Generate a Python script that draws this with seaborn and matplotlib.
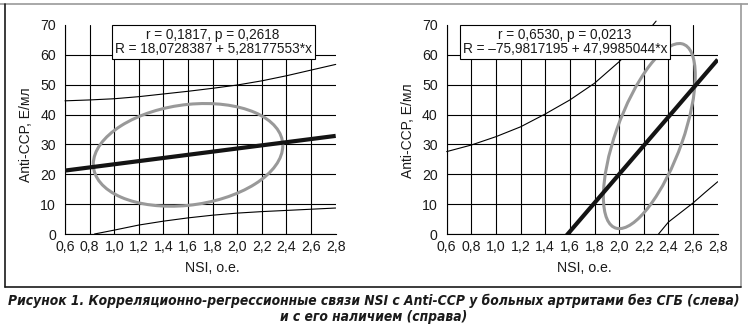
import matplotlib
matplotlib.use("Agg")
import numpy as np
import pandas as pd
import matplotlib.pyplot as plt
import seaborn as sns
from matplotlib import font_manager
from matplotlib.font_manager import FontProperties
from matplotlib.lines import Line2D
from matplotlib.patches import Circle
from matplotlib.transforms import Affine2D

# ---- regression results ----
r_left, p_left = 0.1817, 0.2618
b0_left, b1_left = 18.0728387, 5.28177553
r_right, p_right = 0.6530, 0.0213
b0_right, b1_right = -75.9817195, 47.9985044

# ---- confidence band curves (NSI, Anti-CCP) ----
band_up_left_x = [0.6, 0.8, 1.0, 1.2, 1.4, 1.6, 1.8, 2.0, 2.2, 2.4, 2.6, 2.8]
band_up_left_y = [44.6, 44.9, 45.3, 46.0, 46.9, 47.8, 48.8, 49.9, 51.3, 53.0, 54.9, 56.8]
band_lo_left_x = [0.84, 1.0, 1.2, 1.4, 1.6, 1.8, 2.0, 2.2, 2.4, 2.6, 2.8]
band_lo_left_y = [0.0, 1.3, 3.0, 4.3, 5.4, 6.3, 7.0, 7.5, 7.9, 8.3, 8.7]
band_up_right_x = [0.6, 0.8, 1.0, 1.2, 1.4, 1.6, 1.8, 2.0, 2.2, 2.3]
band_up_right_y = [27.6, 29.8, 32.6, 35.9, 40.2, 44.9, 50.5, 57.7, 66.3, 71.3]
band_lo_right_x = [2.32, 2.4, 2.5, 2.6, 2.7, 2.8]
band_lo_right_y = [0.0, 4.0, 7.2, 10.4, 14.0, 17.5]

# ---- group means and ellipse half-extents ----
nsi_mean_left, ccp_mean_left = 1.60, 26.5
nsi_spread_left, ccp_spread_left = 0.77, 17.2
nsi_mean_right, ccp_mean_right = 2.245, 32.8
nsi_spread_right, ccp_spread_right = 0.373, 31.0

# ---- axes ticks and texts ----
x_ticks = [0.6, 0.8, 1.0, 1.2, 1.4, 1.6, 1.8, 2.0, 2.2, 2.4, 2.6, 2.8]
x_ticklabels = ["0,6", "0,8", "1,0", "1,2", "1,4", "1,6", "1,8", "2,0", "2,2", "2,4", "2,6", "2,8"]
y_ticks = [0, 10, 20, 30, 40, 50, 60, 70]
x_label = "NSI, о.е."
y_label = "Anti-CCP, Е/мл"
caption_1 = "Рисунок 1. Корреляционно-регрессионные связи NSI с Anti-CCP у больных артритами без СГБ (слева)"
caption_2 = "и с его наличием (справа)"

sns.set_theme(style="white")
plt.rcParams["font.family"] = ["Liberation Sans", "DejaVu Sans"]
plt.rcParams["text.color"] = "#1a1a1a"
plt.rcParams["axes.labelcolor"] = "#1a1a1a"
plt.rcParams["xtick.color"] = "#1a1a1a"
plt.rcParams["ytick.color"] = "#1a1a1a"

W, H = 748, 327
fig = plt.figure(figsize=(W / 100, H / 100), dpi=100)
fig.patch.set_facecolor("white")


def fx(px):
    return px / W


def fy(py):
    return 1 - py / H


def num(v, fmt):
    return format(v, fmt).replace(".", ",").replace("-", "\u2013")


def panel(rect, r, p, b0, b1, up_x, up_y, lo_x, lo_y,
          mx, my, sx, sy, box_x, xlabel_x, ylabel_y):
    ax = fig.add_axes(rect)
    ax.set_facecolor("white")
    ax.set_xlim(0.6, 2.8)
    ax.set_ylim(0, 70)
    ax.set_xticks(x_ticks)
    ax.set_xticklabels(x_ticklabels)
    ax.set_yticks(y_ticks)
    ax.tick_params(length=0, labelsize=10.2)
    ax.tick_params(axis="x", pad=4.6)
    ax.tick_params(axis="y", pad=6.5)
    ax.grid(True, color="black", lw=0.8)
    ax.set_axisbelow(True)
    ax.get_xgridlines()[-1].set_visible(False)
    ax.get_ygridlines()[-1].set_visible(False)
    for side in ("top", "right"):
        ax.spines[side].set_visible(False)
    for side in ("left", "bottom"):
        ax.spines[side].set_color("black")
        ax.spines[side].set_linewidth(0.8)

    # confidence bands
    up = pd.DataFrame({"nsi": up_x, "ccp": up_y})
    lo = pd.DataFrame({"nsi": lo_x, "ccp": lo_y})
    sns.lineplot(data=up, x="nsi", y="ccp", ax=ax, color="black", lw=0.8,
                 sort=False, clip_on=False, zorder=3)
    sns.lineplot(data=lo, x="nsi", y="ccp", ax=ax, color="black", lw=0.8,
                 sort=False, zorder=3)

    # correlation ellipse
    ell = Circle((0, 0), 1, fill=False, ec="#999999", lw=2.2, zorder=4,
                 transform=Affine2D(np.array([[sx, 0, mx],
                                              [sy * r, sy * np.sqrt(1 - r * r), my],
                                              [0, 0, 1]])) + ax.transData)
    ax.add_patch(ell)

    # regression line
    reg = pd.DataFrame({"nsi": [0.6, 2.8]})
    reg["ccp"] = b0 + b1 * reg["nsi"]
    sns.lineplot(data=reg, x="nsi", y="ccp", ax=ax, color="#141414", lw=3.0,
                 solid_capstyle="butt", zorder=5)

    label = (f"r = {num(r, '.4f')}, p = {num(p, '.4f')}\n"
             f"R = {num(b0, '.9g')} + {num(b1, '.9g')}*x")
    ax.text(box_x, 64.3, label, ha="center", va="center", fontsize=9.8,
            linespacing=1.0, zorder=6,
            bbox=dict(boxstyle="square,pad=0.22", fc="white", ec="black", lw=0.8))

    ax.set_xlabel(x_label, fontsize=10.2)
    ax.set_ylabel(y_label, fontsize=10.0)
    ax.xaxis.set_label_coords(xlabel_x, -0.13)
    ax.yaxis.set_label_coords(-0.118, ylabel_y)
    return ax


ax_l = panel([fx(65), fy(234), fx(335.7) - fx(65), fy(25) - fy(234)],
             r_left, p_left, b0_left, b1_left,
             band_up_left_x, band_up_left_y, band_lo_left_x, band_lo_left_y,
             nsi_mean_left, ccp_mean_left, nsi_spread_left, ccp_spread_left,
             box_x=1.803, xlabel_x=0.546, ylabel_y=0.475)
ax_r = panel([fx(446.7), fy(234), fx(717.7) - fx(446.7), fy(25) - fy(234)],
             r_right, p_right, b0_right, b1_right,
             band_up_right_x, band_up_right_y, band_lo_right_x, band_lo_right_y,
             nsi_mean_right, ccp_mean_right, nsi_spread_right, ccp_spread_right,
             box_x=1.561, xlabel_x=0.507, ylabel_y=0.495)

# outer frame
fig.add_artist(Line2D([fx(0), fx(748)], [fy(4), fy(4)], color="#9a9a9a", lw=1.2))
fig.add_artist(Line2D([fx(741), fx(741)], [fy(4), fy(287)], color="#9a9a9a", lw=1.2))
fig.add_artist(Line2D([fx(4.5), fx(4.5)], [fy(4), fy(287)], color="#1a1a1a", lw=1.2))
fig.add_artist(Line2D([fx(4.5), fx(741)], [fy(287), fy(287)], color="#1a1a1a", lw=1.2))


# caption: a narrow bold italic face if one is installed
def pick_caption_font():
    ttf = font_manager.fontManager.ttflist
    narrow = [f for f in ttf
              if (f.stretch in ("condensed", "semi-condensed", "extra-condensed")
                  or "Narrow" in f.name or "Condensed" in f.name
                  or "Condensed" in f.fname or "Narrow" in f.fname)]

    def score(f):
        s = 0
        if f.style in ("italic", "oblique"):
            s += 2
        w = f.weight if isinstance(f.weight, int) else {"bold": 700}.get(f.weight, 400)
        if w >= 600:
            s += 2
        return s

    narrow.sort(key=score, reverse=True)
    if narrow and score(narrow[0]) == 4:
        return FontProperties(fname=narrow[0].fname)
    return FontProperties(family=["Liberation Sans", "DejaVu Sans"],
                          weight="bold", style="italic")


cap_fp = pick_caption_font()
t1 = fig.text(0.5, fy(300.5), caption_1, ha="center", va="center",
              fontproperties=cap_fp, fontsize=10)
t2 = fig.text(0.5, fy(316.5), caption_2, ha="center", va="center",
              fontproperties=cap_fp, fontsize=10)
renderer = fig.canvas.get_renderer()
w = t1.get_window_extent(renderer).width
scale = 728 / w
t1.set_fontsize(10 * scale)
t2.set_fontsize(10 * scale)

fig.savefig("out.png", dpi=100, facecolor="white")
